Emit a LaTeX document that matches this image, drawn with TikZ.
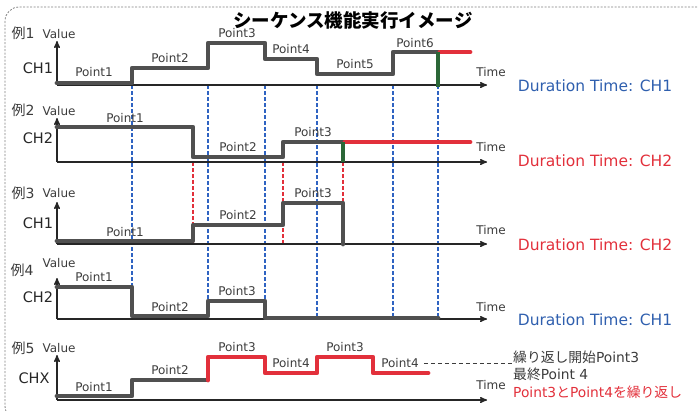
\documentclass[tikz,border=0pt]{standalone}
\usepackage{fontspec}
\setmainfont{DejaVu Sans}
\newfontfamily\jp{Noto Sans CJK JP}
\usetikzlibrary{arrows}

\definecolor{sgray}{HTML}{505050}
\definecolor{tgray}{HTML}{3C3C3C}
\definecolor{lblue}{HTML}{2F63C2}
\definecolor{dblue}{HTML}{2F5FAE}
\definecolor{sred}{HTML}{E2303B}
\definecolor{sgreen}{HTML}{2B6737}

\begin{document}
\begin{tikzpicture}[x=1pt,y=-1pt,>=stealth',
        sig/.style={line width=4.8pt,draw=sgray,line cap=round,line join=round},
        rsig/.style={sig,draw=sred},
        gsig/.style={line width=4pt,draw=sgreen},
        axis/.style={->,line width=1.4pt,draw=black!85},
        tmark/.style={draw=lblue,line width=1.3pt,dash pattern=on 4pt off 2pt},
        rmark/.style={tmark,draw=sred},
        lbl/.style={inner sep=0pt,text=tgray,font=\fontsize{12}{12}\selectfont},
        chname/.style={inner sep=0pt,text=black!85,font=\fontsize{14.5}{14.5}\selectfont},
        exname/.style={inner sep=0pt,text=tgray,font=\fontsize{14}{14}\selectfont},
        dur/.style={inner sep=0pt,font=\fontsize{15.5}{15.5}\selectfont},
        note/.style={inner sep=0pt,anchor=west,text=tgray,font=\fontsize{13.8}{13.8}\selectfont}]

  \useasboundingbox (0,0) rectangle (698,410);
  \draw[gray,line width=0.8pt,dash pattern=on 2pt off 1.5pt,rounded corners=14pt]
    (5,7) rectangle (712,420);

  \node[inner sep=0pt,font=\fontsize{18.5}{18.5}\selectfont\jp\bfseries] (title) at (353,20)
    {シーケンス機能実行イメージ};

  % time marks
  \foreach \x in {132,208,265,317,393,438}
    \draw[tmark] (\x,85) -- (\x,319);
  \foreach \x in {193,283,343}
    \draw[rmark] (\x,162) -- (\x,244);

  % axes
  \foreach \y/\t in {85/41,162/118,244/202,319/278,400/355} {
    \draw[axis] (57,\y) -- (487,\y);
    \draw[axis] (57,\y) -- (57,\t);
  }

  % example 1
  \node[exname] (ex1) at (23,33) {{\jp 例}1};
  \node[lbl] (val1) at (59,34) {Value};
  \node[chname] (ch1) at (38,68) {CH1};
  \node[lbl] (time1) at (491,72) {Time};
  \node[dur,text=dblue] (dur1) at (595,86) {Duration Time: CH1};
  \draw[sig] (57,83) -- (132,83) -- (132,68) -- (208,68) -- (208,43) -- (265,43)
    -- (265,59) -- (317,59) -- (317,74) -- (393,74) -- (393,52) -- (438,52);
  \draw[rsig] (440,52) -- (470,52);
  \draw[gsig] (438,52) -- (438,87);
  \node[lbl] (a1) at (94,72) {Point1};
  \node[lbl] (a2) at (170,58) {Point2};
  \node[lbl] (a3) at (237,33) {Point3};
  \node[lbl] (a4) at (291,49) {Point4};
  \node[lbl] (a5) at (355,64) {Point5};
  \node[lbl] (a6) at (415,43) {Point6};

  % example 2
  \node[exname] (ex2) at (23,110) {{\jp 例}2};
  \node[lbl] (val2) at (59,111) {Value};
  \node[chname] (ch2) at (38,138) {CH2};
  \node[lbl] (time2) at (491,147) {Time};
  \node[dur,text=sred] (dur2) at (595,161) {Duration Time: CH2};
  \draw[sig] (57,127) -- (193,127) -- (193,157) -- (283,157) -- (283,142) -- (343,142);
  \draw[rsig] (345,142) -- (470,142);
  \draw[gsig] (343,142) -- (343,162);
  \node[lbl] (b1) at (125,118) {Point1};
  \node[lbl] (b2) at (238,147) {Point2};
  \node[lbl] (b3) at (313,132) {Point3};

  % example 3
  \node[exname] (ex3) at (23,193) {{\jp 例}3};
  \node[lbl] (val3) at (59,193) {Value};
  \node[chname] (ch3) at (38,223) {CH1};
  \node[lbl] (time3) at (491,230) {Time};
  \node[dur,text=sred] (dur3) at (595,245) {Duration Time: CH2};
  \draw[sig] (57,241) -- (193,241) -- (193,225) -- (283,225) -- (283,203) -- (343,203)
    -- (343,244);
  \node[lbl] (c1) at (125,232) {Point1};
  \node[lbl] (c2) at (238,215) {Point2};
  \node[lbl] (c3) at (313,193) {Point3};

  % example 4
  \node[exname] (ex4) at (22,270) {{\jp 例}4};
  \node[lbl] (val4) at (59,263) {Value};
  \node[chname] (ch4) at (38,297) {CH2};
  \node[lbl] (time4) at (491,307) {Time};
  \node[dur,text=dblue] (dur4) at (595,320) {Duration Time: CH1};
  \draw[sig] (57,287) -- (132,287) -- (132,316) -- (208,316) -- (208,301) -- (265,301)
    -- (265,318) -- (438,318);
  \node[lbl] (d1) at (94,277) {Point1};
  \node[lbl] (d2) at (170,307) {Point2};
  \node[lbl] (d3) at (237,291) {Point3};

  % example 5
  \node[exname] (ex5) at (23,348) {{\jp 例}5};
  \node[lbl] (val5) at (59,348) {Value};
  \node[chname] (ch5) at (34,378) {CHX};
  \node[lbl] (time5) at (491,385) {Time};
  \draw[sig] (57,396) -- (132,396) -- (132,380) -- (206,380);
  \draw[rsig] (208,380) -- (208,357) -- (265,357) -- (265,373) -- (317,373) -- (317,357)
    -- (373,357) -- (373,373) -- (428,373);
  \node[lbl] (e1) at (94,387) {Point1};
  \node[lbl] (e2) at (170,370) {Point2};
  \node[lbl] (e3) at (237,347) {Point3};
  \node[lbl] (e4) at (291,363) {Point4};
  \node[lbl] (e5) at (345,347) {Point3};
  \node[lbl] (e6) at (400,363) {Point4};
  \node[note] (rep) at (513,357) {{\jp 繰り返し開始}Point3};
  \node[note] (last) at (513,374) {{\jp 最終}Point 4};
  \node[note,text=sred] (loop) at (513,392) {Point3{\jp と}Point4{\jp を繰り返し}};
  \draw[tgray,line width=0.8pt,dash pattern=on 4pt off 3pt] (e6.east) ++(5,0) -- (rep.west |- e6.east);

\end{tikzpicture}
\end{document}
